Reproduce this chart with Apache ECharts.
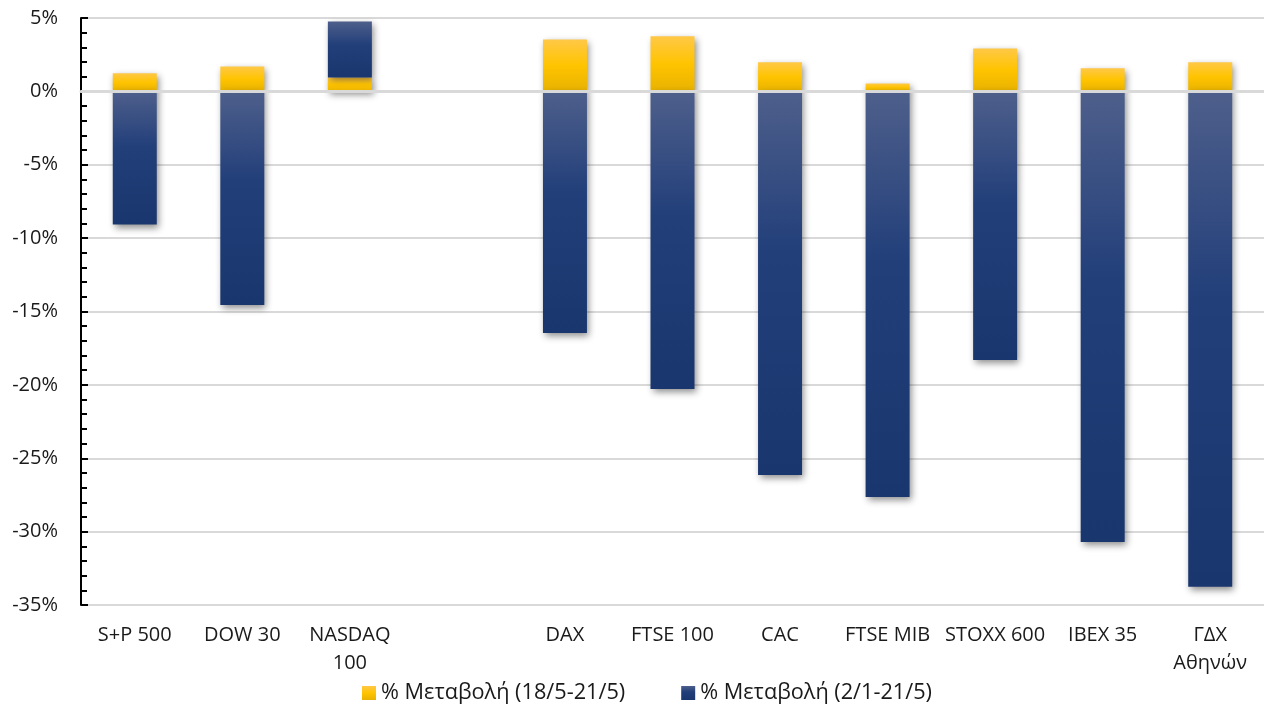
<!DOCTYPE html>
<html>
<head>
<meta charset="utf-8">
<script src="https://cdn.jsdelivr.net/npm/echarts@6/dist/echarts.min.js"></script>
<style>
  html, body { margin: 0; padding: 0; background: #fff; }
  #chart { width: 1264px; height: 706px; }
</style>
</head>
<body>
<div id="chart"></div>
<script>
// Data
const categories = ['S+P 500', 'DOW 30', 'NASDAQ\n100', '', 'DAX', 'FTSE 100', 'CAC', 'FTSE MIB', 'STOXX 600', 'IBEX 35', 'ΓΔΧ\nΑθηνών'];
const weekChange = [1.23, 1.70, 0.95, null, 3.54, 3.75, 1.98, 0.54, 2.93, 1.57, 1.98];
const ytdChange = [-9.08, -14.55, 3.82, null, -16.46, -20.28, -26.14, -27.64, -18.30, -30.70, -33.76];
const seriesNames = ['% Μεταβολή (18/5-21/5)', '% Μεταβολή (2/1-21/5)'];
const yTicks = { min: -35, max: 5, interval: 5 };

const FONT = '"Open Sans", "Noto Sans", sans-serif';

const yellowGrad = new echarts.graphic.LinearGradient(0, 0, 0, 1, [
  { offset: 0, color: '#ffc847' },
  { offset: 0.5, color: '#ffc400' },
  { offset: 1, color: '#e8b200' }
]);
const blueGrad = new echarts.graphic.LinearGradient(0, 0, 0, 1, [
  { offset: 0, color: '#4e5f8b' },
  { offset: 0.42, color: '#223f7a' },
  { offset: 1, color: '#1a366e' }
]);
const shadow = { shadowColor: 'rgba(0,0,0,0.45)', shadowBlur: 7, shadowOffsetX: 2, shadowOffsetY: 3 };

const chart = echarts.init(document.getElementById('chart'), null, { renderer: 'canvas' });
chart.setOption({
  animation: false,
  backgroundColor: '#ffffff',
  textStyle: { fontFamily: FONT },
  grid: { left: 81, right: 0, top: 18, bottom: 101, containLabel: false, outerBoundsMode: 'none' },
  legend: {
    data: seriesNames,
    left: 362,
    top: 682,
    padding: 0,
    itemWidth: 14,
    itemHeight: 14,
    itemGap: 56,
    icon: 'rect',
    itemStyle: { shadowBlur: 0, shadowOffsetX: 0, shadowOffsetY: 0, shadowColor: 'transparent' },
    textStyle: { fontFamily: FONT, fontSize: 21.7, color: '#1a1a1a' }
  },
  xAxis: [
    {
      type: 'category',
      data: categories,
      axisLine: { show: false, onZero: false },
      axisTick: { show: false },
      axisLabel: { interval: 0, margin: 16, fontFamily: FONT, fontSize: 20, lineHeight: 28, color: '#1a1a1a' },
      splitLine: { show: false }
    },
    {
      type: 'category',
      data: categories,
      position: 'bottom',
      z: 10,
      axisLine: { show: true, onZero: true, lineStyle: { color: '#d9d9d9', width: 3 } },
      axisTick: { show: false },
      axisLabel: { show: false },
      splitLine: { show: false }
    }
  ],
  yAxis: {
    type: 'value',
    min: yTicks.min,
    max: yTicks.max,
    interval: yTicks.interval,
    axisLine: { show: true, lineStyle: { color: '#000', width: 2 } },
    axisTick: { show: true, inside: true, length: 7, lineStyle: { color: '#000', width: 2 } },
    minorTick: { show: true, splitNumber: 5, length: 6, lineStyle: { color: '#000', width: 2 } },
    axisLabel: { margin: 23, formatter: '{value}%', fontFamily: FONT, fontSize: 20, color: '#1a1a1a' },
    splitLine: { show: true, lineStyle: { color: '#d9d9d9', width: 2 } }
  },
  series: [
    {
      name: seriesNames[0],
      type: 'bar',
      stack: 'total',
      barWidth: 44,
      data: weekChange,
      itemStyle: Object.assign({ color: yellowGrad }, shadow)
    },
    {
      name: seriesNames[1],
      type: 'bar',
      stack: 'total',
      barWidth: 44,
      data: ytdChange,
      itemStyle: Object.assign({ color: blueGrad }, shadow)
    }
  ]
});
</script>
</body>
</html>
